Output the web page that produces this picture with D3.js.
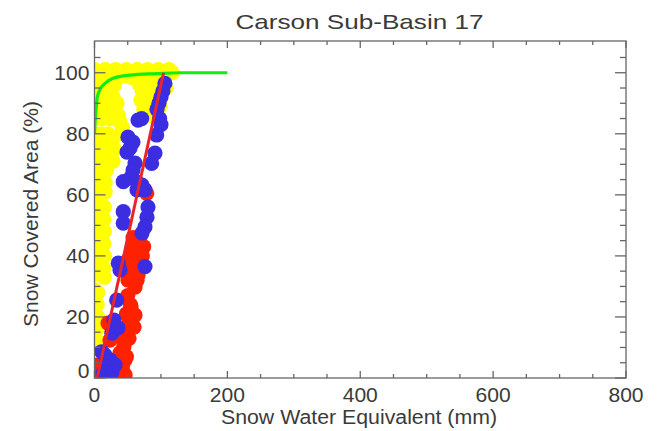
<!DOCTYPE html>
<html><head><meta charset="utf-8">
<script src="https://cdn.jsdelivr.net/npm/d3@7"></script>
<style>body{margin:0;background:#fff}svg{display:block}text{font-family:"Liberation Sans",Arial,sans-serif;fill:#3a3a3a}</style>
</head><body>
<script>
const title = "Carson Sub-Basin 17";
const xTitle = "Snow Water Equivalent (mm)";
const yTitle = "Snow Covered Area (%)";
const xTicks = [0, 200, 400, 600, 800];
const yTicks = [0, 20, 40, 60, 80, 100];
const xMinor = [50,100,150,250,300,350,450,500,550,650,700,750];
const yMinor = [5,10,15,25,30,35,45,50,55,65,70,75,85,90,95,105];

// yellow points [SWE mm, SCA %]
const yellowPts = [
[0,101],[8,100],[16,101],[24,100],[32,101],[40,100],[48,101],[56,100],[64,101],[72,100],[80,101],[88,100],[96,101],[104,100],[112,101],[117,100],
[36,98.5],[46,99],[56,98.5],[62,98.5],
[0,97],[10,97],[22,97],[30,96],[68,96],[78,97],[88,96],[100,96],[108,95],
[0,93],[10,93],[20,93],[28,92],[34,90],[0,89],[10,89],[20,89],[30,88],[36,86],[0,85],[12,85],[24,85],[38,84],[42,82],
[72,94],[80,95],[86,94],[96,95],[70,91],[78,91],[90,91],[98,91],[74,88],[80,88],[92,88],[99,89],[84,86],
[0,80],[10,80],[20,80],[30,79],[0,76],[10,76],[20,76],[30,75],[0,72],[10,72],[20,72],[28,71],[0,68],[10,68],[18,68],
[0,65],[8,65],[16,64],[0,61],[8,61],[16,61],
[0,57],[10,57],[15,56],[0,53],[10,53],[14,52],[0,49],[10,49],[15,48],[0,45],[10,45],[14,44],[0,41],[10,41],[15,40],[0,37],[10,37],[14,36],[0,34],[10,34],[15,33],
[0,29],[5,28],[0,25],[4,24],[0,21],[5,20],[0,17],[4,16],[0,13],[4,12]
];
// red points
const redPts = [
[78.6,60.5],[68.5,46.2],[64,43.6],[58,46],[74,43],[56,42],[72,40],[56.4,41.3],[50.4,38.6],[61,38],[68,36],[58,34.7],[50.4,32.1],[61,29.8],[68.5,37],[65.5,33.7],[64,32],
[55,23.3],[61,20.6],[52,18.3],[59.5,16.7],[50,27],[54,24],[48,21],[56,19],[46,16],[52,13],[44,10],[48,7],[42,4],[46,1],
[20.3,18],[26.3,15.1],[23.3,12.4],
[41.4,13.4],[44.4,10.8],[38.4,8.2],[45.9,5.9],[41.4,3.3],[35.4,1.6],[5.3,4.3],[3.8,2]
];
// blue points
const bluePts = [
[106,96.5],[103,94],[100,92],[97,90],[94,88],[98,85],[100,83],
[71,85],[65.5,84.5],[93.6,79.6],[50.4,78.9],[57.9,77.3],[53.4,75.3],[48.9,74],[91,73.7],
[61,70.4],[58,68.1],[55,65.8],[64,64.2],[71.5,63.2],[64,61.6],[86,70.3],[43.3,64.3],[76,61.6],
[80.5,56],[79,52.7],[76,49.5],[71.5,47.5],[43.3,54.5],[43.3,50.7],
[35.8,37.6],[38.4,35.4],[76,36.5],[33.4,25.5],[29.3,19],[35.4,16.4],[26.3,14.7],
[10.8,8.6],[15.8,7.5],[23.3,5.9],[18.8,3.3],[30.9,4.3],[12.8,1.6],[26.3,2]
];
// green curve
const greenPts = [[0,80],[1,84.5],[2.3,88],[4.2,92],[8.3,94.5],[15.8,96.5],[28,98.2],[53,99.2],[94,99.7],[130,100],[200,100]];
// red regression line
const redLine = [[4,0],[104,100]];

const W = 665, H = 431;
const m = {l: 94.5, r: 626, t: 41, b: 378};
const x = d3.scaleLinear().domain([0, 800]).range([m.l, m.r]);
const y = d3.scaleLinear().domain([0, 110.4]).range([m.b, m.t]);

const svg = d3.select("body").append("svg").attr("width", W).attr("height", H);
svg.append("defs").append("clipPath").attr("id","clip").append("rect")
  .attr("x", m.l).attr("y", m.t).attr("width", m.r-m.l).attr("height", m.b-m.t);

const g = svg.append("g").attr("clip-path","url(#clip)");
const R = 7.6;
g.selectAll(".yl").data(yellowPts).join("circle").attr("cx",d=>x(d[0])).attr("cy",d=>y(d[1])).attr("r",R).attr("fill","#ffff00");
g.selectAll(".rd").data(redPts).join("circle").attr("cx",d=>x(d[0])).attr("cy",d=>y(d[1])).attr("r",R).attr("fill","#ff2200");
g.selectAll(".bl").data(bluePts).join("circle").attr("cx",d=>x(d[0])).attr("cy",d=>y(d[1])).attr("r",R).attr("fill","#3b2de0");
const line = d3.line().x(d=>x(d[0])).y(d=>y(d[1])).curve(d3.curveMonotoneX);
g.append("path").attr("d", line(greenPts)).attr("fill","none").attr("stroke","#11ee11").attr("stroke-width",3.2);
g.append("path").attr("d", d3.line().x(d=>x(d[0])).y(d=>y(d[1]))(redLine)).attr("fill","none").attr("stroke","#e8262a").attr("stroke-width",3);

// frame & ticks
const ax = svg.append("g").attr("stroke","#666").attr("stroke-width",1.3).attr("fill","none");
ax.append("rect").attr("x",m.l).attr("y",m.t).attr("width",m.r-m.l).attr("height",m.b-m.t);
const xt = [...xTicks.map(v=>[v,7]), ...xMinor.map(v=>[v,4])];
xt.forEach(([v,len])=>{
  ax.append("line").attr("x1",x(v)).attr("x2",x(v)).attr("y1",m.b).attr("y2",m.b-len);
  ax.append("line").attr("x1",x(v)).attr("x2",x(v)).attr("y1",m.t).attr("y2",m.t+len);
});
const yt = [...yTicks.map(v=>[v,11]), ...yMinor.map(v=>[v,6])];
yt.forEach(([v,len])=>{
  ax.append("line").attr("y1",y(v)).attr("y2",y(v)).attr("x1",m.l).attr("x2",m.l+len);
  ax.append("line").attr("y1",y(v)).attr("y2",y(v)).attr("x1",m.r).attr("x2",m.r-len);
});

function stretch(sel, k){ sel.each(function(){ const w=this.getComputedTextLength(); this.setAttribute("textLength", w*k); this.setAttribute("lengthAdjust","spacingAndGlyphs"); }); }
function fixLen(sel, L){ sel.attr("textLength", L).attr("lengthAdjust","spacingAndGlyphs"); }

const xl = svg.selectAll(".xl").data(xTicks).join("text").attr("x",d=>x(d)).attr("y",402)
  .attr("text-anchor","middle").attr("font-size",19.5).text(d=>d);
stretch(xl, 1.08);
const yl = svg.selectAll(".ylab").data(yTicks).join("text").attr("x",89.5).attr("y",d=>Math.min(y(d)+7.2, m.b))
  .attr("text-anchor","end").attr("font-size",19.5).text(d=>d);
stretch(yl, 1.08);

const t = svg.append("text").attr("x",359.5).attr("y",28.5).attr("text-anchor","middle").attr("font-size",21).text(title);
fixLen(t, 248);
const xtl = svg.append("text").attr("x",359).attr("y",424).attr("text-anchor","middle").attr("font-size",19.5).text(xTitle);
fixLen(xtl, 276);
const ytl = svg.append("text").attr("transform","translate(38,214) rotate(-90)").attr("text-anchor","middle").attr("font-size",19.5).text(yTitle);
fixLen(ytl, 226);
</script>
</body></html>
